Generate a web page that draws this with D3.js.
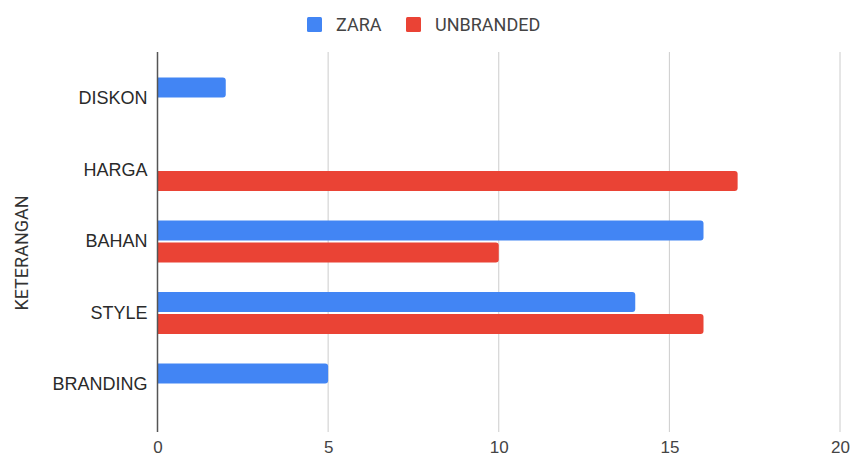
<!DOCTYPE html>
<html>
<head>
<meta charset="utf-8">
<script src="https://cdn.jsdelivr.net/npm/d3@7"></script>
<style>
  body { margin: 0; background: #fff; }
  svg { font-family: Roboto, "Noto Sans", sans-serif; }
  .tick text { fill: #444; }
</style>
</head>
<body>
<svg id="chart" width="853" height="458"></svg>
<script>
var categories = ['DISKON', 'HARGA', 'BAHAN', 'STYLE', 'BRANDING'];
var seriesNames = ['ZARA', 'UNBRANDED'];
var zara = [2, 0, 16, 14, 5];
var unbranded = [0, 17, 10, 16, 0];
var xTicks = [0, 5, 10, 15, 20];
var colors = ['#4285f4', '#ea4335'];

var
  svg = d3.select('#chart'),
  plotTop = 52,
  plotBottom = 432,
  xScale = d3.scaleLinear().domain([0, 20]).range([157.5, 840]),
  yScale = d3.scaleBand().domain(categories).range([62.75, 420.25]),
  subScale = d3.scaleBand().domain(seriesNames).range([-21, 21]).paddingInner(0.1),
  zScale = d3.scaleOrdinal(colors).domain(seriesNames)
  ;

var rows = categories.map((c, i) => ({
  id: c,
  values: [{key: 'ZARA', value: zara[i]}, {key: 'UNBRANDED', value: unbranded[i]}]
}));

// gridlines
svg.append('g')
  .attr('class', 'grid')
  .selectAll('line')
  .data(xTicks.slice(1))
  .enter().append('line')
  .attr('x1', d => xScale(d)).attr('x2', d => xScale(d))
  .attr('y1', plotTop).attr('y2', plotBottom)
  .attr('stroke', '#cccccc')
  .attr('stroke-width', 1);

// x tick labels
var xAxis = d3.axisBottom(xScale).tickValues(xTicks).tickSize(0).tickPadding(0);
svg.append('g')
  .attr('transform', 'translate(0,' + 441 + ')')
  .call(xAxis)
  .call(g => g.select('.domain').remove())
  .selectAll('text')
  .attr('dy', '0.71em')
  .style('font-size', '17px');

// y labels
var yAxis = d3.axisLeft(yScale).tickSize(0).tickPadding(10);
svg.append('g')
  .attr('transform', 'translate(' + xScale(0) + ',0)')
  .call(yAxis)
  .call(g => g.select('.domain').remove())
  .selectAll('text')
  .style('font-size', '18px')
  .style('fill', '#2a2a2a');

// bars
function barPath(x0, x1, y, h, r) {
  if (x1 - x0 < r) r = Math.max(0, x1 - x0);
  return 'M' + x0 + ',' + y +
    'H' + (x1 - r) +
    'Q' + x1 + ',' + y + ' ' + x1 + ',' + (y + r) +
    'V' + (y + h - r) +
    'Q' + x1 + ',' + (y + h) + ' ' + (x1 - r) + ',' + (y + h) +
    'H' + x0 + 'Z';
}

var groups = svg.selectAll('.group')
  .data(rows)
  .enter().append('g')
  .attr('class', 'group')
  .attr('transform', d => 'translate(0,' + (yScale(d.id) + yScale.bandwidth() / 2) + ')');

groups.selectAll('path')
  .data(d => d.values.filter(v => v.value > 0))
  .enter().append('path')
  .attr('d', d => barPath(xScale(0), xScale(d.value), subScale(d.key), subScale.bandwidth(), 3))
  .attr('fill', d => zScale(d.key));

// axis line
svg.append('line')
  .attr('x1', xScale(0)).attr('x2', xScale(0))
  .attr('y1', plotTop).attr('y2', plotBottom)
  .attr('stroke', '#555')
  .attr('stroke-width', 1.5);

// y title
svg.append('text')
  .attr('transform', 'translate(28,253) rotate(-90)')
  .attr('text-anchor', 'middle')
  .style('font-size', '18px')
  .attr('fill', '#333')
  .text('KETERANGAN');

// legend
var legend = svg.append('g').attr('class', 'legend');
var legendX = [307, 406];
seriesNames.forEach((s, i) => {
  legend.append('rect')
    .attr('x', legendX[i]).attr('y', 17)
    .attr('width', 15).attr('height', 15)
    .attr('rx', 1.5)
    .attr('fill', zScale(s));
  legend.append('text')
    .attr('x', legendX[i] + 29).attr('y', 25)
    .attr('dy', '0.35em')
    .style('font-size', '18px')
    .attr('fill', '#444')
    .text(s);
});
</script>
</body>
</html>
